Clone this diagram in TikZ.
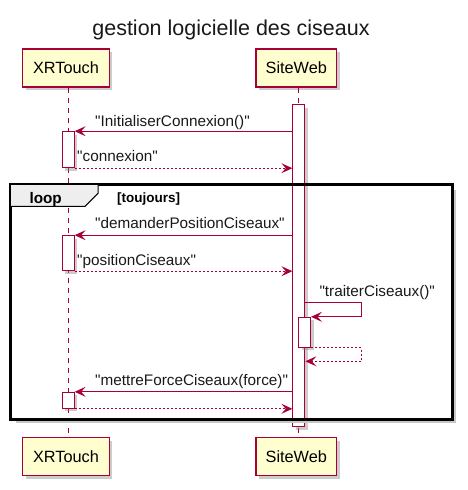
\documentclass[tikz,border=0pt]{standalone}
\usepackage{fontspec}
\setmainfont{Liberation Sans}
\usetikzlibrary{arrows.meta,shadows}
\definecolor{pumlred}{HTML}{A80036}
\definecolor{pumlfill}{HTML}{FEFECE}
\definecolor{tabfill}{HTML}{EEEEEE}
\newcommand{\qq}[1]{\textquotedbl#1\textquotedbl}
\begin{document}
\begin{tikzpicture}[x=1pt,y=-1pt,
  shadowed/.style={drop shadow={shadow xshift=3pt,shadow yshift=-3pt,fill=black!50,opacity=0.4}},
  participant/.style={draw=pumlred,line width=1.5pt,fill=pumlfill,minimum height=38pt,inner sep=0pt,font=\fontsize{16.3}{18}\selectfont,shadowed},
  act/.style={draw=pumlred,line width=1pt,fill=white,minimum width=12pt,inner sep=0pt,shadowed},
  lifeline/.style={draw=pumlred,line width=1pt,dash pattern=on 5pt off 5pt},
  msg/.style={draw=pumlred,line width=1pt,-{Stealth[length=11pt,width=10pt,inset=4.5pt]}},
  ret/.style={msg,dash pattern=on 2pt off 2pt},
  lbl/.style={anchor=base west,inner sep=0pt,font=\fontsize{15.3}{17}\selectfont,text=black!90},
]
\useasboundingbox (0,0) rectangle (467,490);
% title
\node[anchor=base,inner sep=0pt,font=\fontsize{21.5}{24}\selectfont,text=black!90] (title) at (231,35) {gestion logicielle des ciseaux};
% participants
\node[participant,minimum width=86.6pt] (xt) at (66,68) {XRTouch};
\node[participant,minimum width=80.7pt] (sw) at (296.3,68) {SiteWeb};
\node[participant,minimum width=86.6pt] (xtb) at (66,456.5) {XRTouch};
\node[participant,minimum width=80.7pt] (swb) at (296.3,456.5) {SiteWeb};
% lifelines
\coordinate (lx) at (68.3,0);
\coordinate (ls) at (298.5,0);
\draw[lifeline] (lx |- xt.south) -- (lx |- xtb.north);
\draw[lifeline] (ls |- sw.south) -- (ls |- swb.north);
% activations
\node[act,minimum height=322pt] (sa) at (298.85,265.7) {};
\node[act,minimum height=36pt] (a1) at (68.15,149.7) {};
\node[act,minimum height=35pt] (a2) at (68.15,253.2) {};
\node[act,minimum height=16pt] (a3) at (68.15,400.3) {};
\node[act,minimum height=29.7pt] (n) at (304.5,332.15) {};
% loop frame
\draw[black!22,line width=3pt] (454.5,190) -- (454.5,421.5) -- (16,421.5);
\node[draw=black,line width=2pt,minimum width=440.7pt,minimum height=233.3pt,inner sep=0pt] (loop) at (231.35,302) {};
\draw[line width=1pt,fill=tabfill] (loop.north west) -- ++(88,0) -- ++(0,9) -- ++(-13,13) -- ([yshift=-22pt]loop.north west) -- cycle;
\draw[line width=2pt] (loop.north west) rectangle (loop.south east);
\node[anchor=base west,inner sep=0pt,font=\bfseries\fontsize{15.3}{17}\selectfont] (looplbl) at (29.3,203.3) {loop};
\node[anchor=base west,inner sep=0pt,font=\bfseries\fontsize{13.5}{15}\selectfont] (guard) at (117,202.7) {[toujours]};
% messages
\draw[msg] (sa.west |- a1.north) -- (a1.north east);
\node[lbl] (l1) at (95,126.7) {\qq{InitialiserConnexion()}};
\draw[ret] (a1.south east) -- (sa.west |- a1.south);
\node[lbl] (l2) at (77,161.7) {\qq{connexion}};
\draw[msg] (sa.west |- a2.north) -- (a2.north east);
\node[lbl] (l3) at (95,228.3) {\qq{demanderPositionCiseaux}};
\draw[ret] (a2.south east) -- (sa.west |- a2.south);
\node[lbl] (l4) at (77,265) {\qq{positionCiseaux}};
\coordinate (t1) at (361,302.3);
\draw[msg] (sa.east |- t1) -- (t1) |- (n.north east);
\node[lbl] (l5) at (319.3,296) {\qq{traiterCiseaux()}};
\coordinate (t2) at (361,361.3);
\draw[ret] (n.south east) -| (t2) -- (sa.east |- t2);
\draw[msg] (sa.west |- a3.north) -- (a3.north east);
\node[lbl] (l6) at (95,385) {\qq{mettreForceCiseaux(force)}};
\draw[ret] (a3.south east) -- (sa.west |- a3.south);
\end{tikzpicture}
\end{document}
